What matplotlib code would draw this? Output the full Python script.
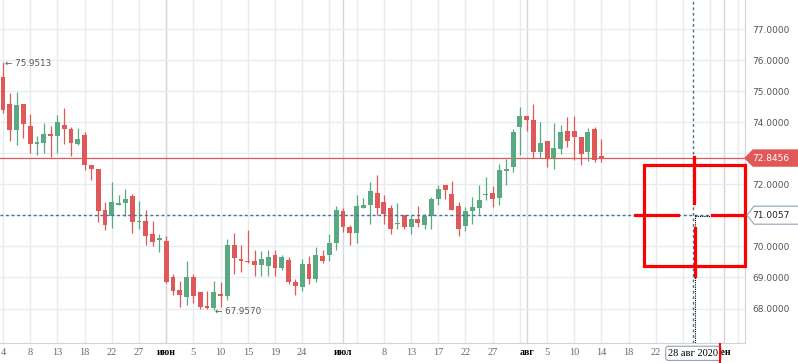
import numpy as np
import matplotlib.pyplot as plt
from matplotlib.patches import Polygon, Rectangle

# daily candles, 4 May .. 14 Aug 2020 (one bar per session, Sundays included)
opens = [75.45, 74.58, 73.74, 74.58, 73.87, 73.30, 73.33, 73.61, 73.56, 73.90,
         73.77, 73.30, 73.58, 72.61, 72.48, 71.16, 70.97, 71.33, 71.40, 71.61,
         70.79, 70.82, 70.39, 70.23, 70.17, 69.03, 68.61, 68.36, 69.03, 68.52,
         68.07, 68.01, 68.48, 68.40, 70.03, 69.58, 69.53, 69.52, 69.39, 69.37,
         69.71, 69.30, 69.55, 68.84, 68.69, 69.42, 68.95, 69.68, 69.71, 70.10,
         71.13, 70.61, 70.42, 71.23, 71.32, 71.71, 71.42, 71.23, 70.71, 71.00,
         70.61, 70.87, 70.68, 70.97, 71.52, 71.97, 71.68, 71.29, 70.65, 71.13,
         71.23, 71.65, 71.71, 71.55, 72.45, 72.55, 73.84, 74.19, 74.06, 73.03,
         73.39, 72.84, 73.13, 73.71, 73.71, 73.52, 73.03, 73.77, 72.90]
highs = [75.9513, 74.95, 74.98, 74.58, 74.26, 73.56, 73.97, 73.88, 74.23, 74.45,
         73.85, 73.81, 73.68, 72.61, 72.48, 71.43, 72.07, 71.65, 71.85, 71.69,
         71.46, 71.17, 70.82, 70.39, 70.32, 69.10, 68.88, 69.52, 69.10, 68.52,
         68.58, 68.90, 68.87, 70.23, 70.42, 70.03, 70.52, 69.90, 69.84, 69.90,
         69.90, 69.71, 69.66, 68.94, 69.58, 69.68, 69.97, 69.87, 70.39, 71.29,
         71.23, 70.68, 71.65, 71.55, 72.06, 72.29, 71.65, 71.32, 71.39, 71.00,
         71.00, 71.29, 71.06, 71.58, 71.97, 71.97, 72.10, 71.42, 71.27, 71.58,
         71.97, 72.23, 71.94, 72.65, 72.81, 73.77, 74.48, 74.19, 74.58, 74.00,
         73.39, 73.97, 73.90, 74.16, 74.19, 73.52, 73.81, 73.84, 73.45]
lows = [74.30, 73.39, 73.26, 73.49, 73.01, 72.94, 73.01, 72.88, 73.01, 73.30,
        72.91, 73.28, 72.46, 72.13, 70.78, 70.52, 70.59, 71.33, 70.97, 70.43,
        70.55, 70.03, 70.01, 69.82, 68.82, 68.44, 68.06, 68.13, 68.17, 67.98,
        67.97, 67.957, 68.04, 68.26, 69.11, 69.17, 69.46, 69.06, 69.06, 69.04,
        69.06, 69.23, 68.80, 68.45, 68.55, 68.80, 68.85, 69.48, 69.52, 69.87,
        70.48, 70.06, 70.10, 71.23, 70.71, 71.00, 70.71, 70.39, 70.55, 70.55,
        70.39, 70.61, 70.55, 70.55, 71.32, 71.52, 71.16, 70.35, 70.49, 70.72,
        71.03, 71.48, 71.26, 71.32, 71.97, 72.39, 72.94, 73.71, 72.84, 72.84,
        72.55, 72.48, 72.97, 73.19, 72.77, 72.61, 72.74, 72.71, 72.71]
closes = [74.39, 73.74, 74.55, 73.94, 73.30, 73.35, 73.61, 73.56, 74.00, 73.78,
          73.33, 73.45, 72.61, 72.49, 71.14, 70.68, 71.43, 71.39, 71.52, 70.78,
          70.82, 70.35, 70.14, 70.26, 68.87, 68.58, 68.42, 69.03, 68.39, 68.04,
          68.02, 68.52, 68.39, 70.03, 69.62, 69.53, 69.49, 69.40, 69.58, 69.65,
          69.30, 69.65, 68.85, 68.72, 69.42, 68.95, 69.71, 69.52, 70.10, 71.16,
          70.61, 70.42, 71.29, 71.32, 71.77, 71.23, 71.03, 70.55, 70.77, 70.61,
          70.87, 70.74, 70.97, 71.52, 71.84, 71.81, 71.16, 70.56, 71.13, 71.26,
          71.48, 71.68, 71.52, 72.45, 72.48, 73.68, 74.19, 74.06, 73.03, 73.32,
          72.84, 73.16, 73.68, 73.39, 73.52, 72.97, 73.68, 72.77, 72.8456]

tick_pos = list(range(0, 109, 4))
tick_labels = ['4', '8', '13', '18', '22', '27', '', '5', '10', '15', '19', '24',
               '', '', '8', '13', '17', '22', '27', '', '5', '10', '14', '18',
               '22', '', '', '']
month_pos = [24, 50, 77, 106]
month_labels = ['июн', 'июл', 'авг', 'сен']
price_ticks = [68, 69, 70, 71, 72, 73, 74, 75, 76, 77]

last_price = 72.8456
cross_price = 71.0057
cross_pos = 101.5
cross_label = '28 авг 2020'

RED = '#e05858'
GREEN = '#59a982'

fig = plt.figure(figsize=(7.98, 3.63), dpi=100)
ax = fig.add_axes([0, 20.3 / 363, 745 / 798, 342.7 / 363])
ax.set_xlim(-0.44, 109.1)
ax.set_ylim(66.90, 77.935)

o = np.array(opens); h = np.array(highs); l = np.array(lows); c = np.array(closes)
idx = np.arange(len(o))
col = np.where(c >= o, GREEN, RED)
ax.vlines(idx, l, h, color=col, lw=0.9, zorder=3)
diff = np.abs(c - o)
body = np.maximum(diff, 0.05)
ax.bar(idx, body, bottom=np.minimum(o, c) - (body - diff) / 2, width=0.72,
       color=col, linewidth=0, zorder=4)

# min / max marks
imax = int(np.argmax(h)); imin = int(np.argmin(l))
ax.text(imax + 0.3, h[imax] - 0.05, '← %.4f' % h[imax], fontsize=6.3, color='#555555',
        va='center', ha='left', zorder=6)
ax.text(imin + 0.2, l[imin] - 0.05, '← %.4f' % l[imin], fontsize=6.3, color='#555555',
        va='center', ha='left', zorder=6)

# lines
ax.axhline(last_price, color=RED, lw=0.9, zorder=2)
ax.axhline(cross_price, color='#4a6d94', lw=1, ls=(0, (2, 2)), zorder=5)
ax.axvline(cross_pos, color='#4a6d94', lw=1, ls=(0, (2, 2)), zorder=5)
ax.plot([cross_pos + 0.25, 109.1], [cross_price - 0.03] * 2, color='black',
        lw=0.8, ls=(0, (1, 1)), zorder=5)
ax.plot([cross_pos + 0.25] * 2, [cross_price, 66.9], color='black',
        lw=0.8, ls=(0, (1, 1)), zorder=5)

# red hand drawn marker
ax.add_patch(Rectangle((94.3, 69.355), 109.1 - 94.3, 72.61 - 69.355, fill=False,
                       ec='#ff0000', lw=2.3, clip_on=False, zorder=7))
ax.plot([101.6, 101.6], [72.87, 71.39], color='#ff0000', lw=2.3, zorder=7)
ax.plot([101.7, 101.7], [70.58, 69.06], color='#ff0000', lw=2.3, zorder=7)
ax.plot([92.9, 99.3], [71.02, 71.02], color='#ff0000', lw=2.3, zorder=7)
ax.plot([104.3, 109.1], [71.02, 71.02], color='#ff0000', lw=2.3, zorder=7,
        clip_on=False)

# axes styling
ax.xaxis.remove_overlapping_locs = False
ax.set_xticks(tick_pos, tick_labels)
ax.set_xticks(month_pos, month_labels, minor=True)
ax.tick_params(axis='x', which='both', length=0, pad=3.5)
ax.tick_params(axis='x', which='major', labelsize=7.5, labelcolor='#6a6a6a',
               labelfontfamily='Liberation Serif')
ax.tick_params(axis='x', which='minor', labelsize=7, labelcolor='black',
               labelfontfamily='Liberation Serif')
for lbl in ax.get_xticklabels(minor=True):
    lbl.set_fontweight('bold')
ax.yaxis.tick_right()
# labels hidden under the price tags stay empty
ylabels = ['' if min(abs(p - last_price), abs(p - cross_price)) < 0.5 else '%.4f' % p
           for p in price_ticks]
ax.set_yticks(price_ticks, ylabels)
ax.tick_params(axis='y', length=0, pad=5, labelsize=6.5, labelcolor='#555555')
ax.grid(which='major', color='#e8ebef', lw=1)
ax.grid(which='minor', axis='x', color='#d3d6db', lw=1)
ax.set_axisbelow(True)
for s in ['top', 'left']:
    ax.spines[s].set_visible(False)
for s in ['bottom', 'right']:
    ax.spines[s].set_color('#d0d4d9')

# price tags on the right
tr = ax.get_yaxis_transform()
px = 1 / 745
py = 11.035 / 342.7
ax.add_patch(Polygon([(1.0, last_price), (1 + 8 * px, last_price + 8 * py),
                      (1.075, last_price + 8 * py), (1.075, last_price - 8 * py),
                      (1 + 8 * px, last_price - 8 * py)], closed=True,
                     transform=tr, fc=RED, ec=RED, clip_on=False, zorder=10))
ax.text(1 + 7 * px, last_price, '%.4f' % last_price, transform=tr, color='white',
        fontsize=6.5, va='center', ha='left', zorder=11, clip_on=False)
ax.add_patch(Polygon([(1 + 2 * px, cross_price), (1 + 9 * px, cross_price + 9 * py),
                      (1.075, cross_price + 9 * py), (1.075, cross_price - 9 * py),
                      (1 + 9 * px, cross_price - 9 * py)], closed=True,
                     transform=tr, fc='white', ec='#8fa3b9', lw=0.8, clip_on=False,
                     zorder=10))
ax.text(1 + 7 * px, cross_price, '%.4f' % cross_price, transform=tr, color='#222222',
        fontsize=6.5, va='center', ha='left', zorder=11, clip_on=False)

# date tag of the crosshair
ax.text(cross_pos, -0.031, cross_label, transform=ax.get_xaxis_transform(),
        fontsize=7.5, family='Liberation Serif', color='black', ha='center',
        va='center', zorder=11, clip_on=False,
        bbox=dict(boxstyle='round,pad=0.25', fc='white', ec='#8fa3b9', lw=0.8))
ax.plot([105.4, 105.4], [-0.003, -0.058], transform=ax.get_xaxis_transform(),
        color='#ff0000', lw=1.5, clip_on=False, zorder=12)

fig.savefig('out.png', dpi=100)
